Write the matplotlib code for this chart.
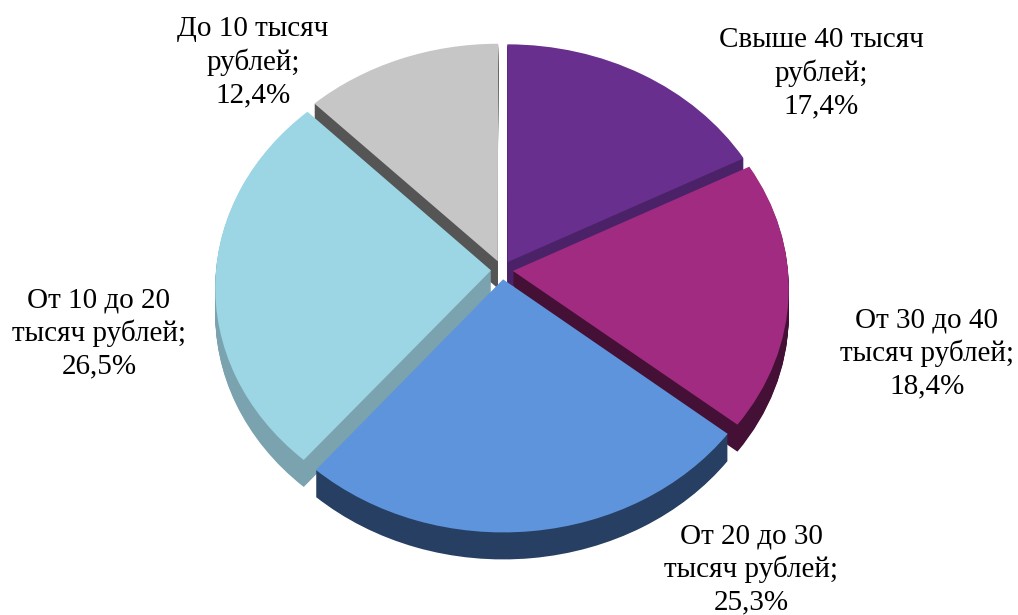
import numpy as np
import matplotlib
matplotlib.use("Agg")
import matplotlib.pyplot as plt
from matplotlib.transforms import Transform, Affine2D

plt.rcParams['font.family'] = ['Liberation Serif', 'DejaVu Serif']

labels = ["Свыше 40 тысяч\nрублей;\n17,4%", "От 30 до 40\nтысяч рублей;\n18,4%",
          "От 20 до 30\nтысяч рублей;\n25,3%", "От 10 до 20\nтысяч рублей;\n26,5%",
          "До 10 тысяч\nрублей;\n12,4%"]
values = [17.4, 18.4, 25.3, 26.5, 12.4]
top_colors = ["#682f8e", "#a22b82", "#5d94dc", "#9cd6e5", "#c6c6c6"]
side_colors = ["#4b2268", "#451035", "#263f63", "#7aa3af", "#555555"]
explode = [0.04] * 5
label_pos = [(821, 73), (927, 353), (751, 569), (99, 333), (253, 62)]

# draw order back to front
order = {4: 0, 0: 1, 1: 2, 3: 3, 2: 4}

RADIUS = 275
CENTER = (502, 270)
DEPTH = 27
TILT = 234 / 275
PERSP = 0.07


class Tilted(Transform):
    # perspective view of the unit pie plane
    input_dims = 2
    output_dims = 2

    def transform_non_affine(self, xy):
        xy = np.asarray(xy, dtype=float)
        w = 1 + PERSP * xy[:, 1]
        return np.column_stack([xy[:, 0] / w, TILT * xy[:, 1] / w])


fig = plt.figure(figsize=(10.18, 6.15), dpi=100)
ax = fig.add_axes([0, 0, 1, 1])

for d in range(DEPTH, -1, -1):
    wedges, _ = ax.pie(values, explode=explode, startangle=90, counterclock=False,
                       colors=top_colors if d == 0 else side_colors)
    tr = Tilted() + Affine2D().scale(RADIUS, -RADIUS).translate(CENTER[0], CENTER[1] + d) + ax.transData
    for i, w in enumerate(wedges):
        w.set_transform(tr)
        w.set_clip_on(False)
        w.set_linewidth(0)
        w.set_zorder(order[i] * 100 + (DEPTH - d))

ax.set_aspect('auto')
ax.set_xlim(0, 1018)
ax.set_ylim(615, 0)
ax.axis('off')

for text, (x, y) in zip(labels, label_pos):
    ax.text(x, y, text, ha='center', va='center', fontsize=21, color='black',
            linespacing=1.3, zorder=1000)

fig.savefig('out.png', dpi=100)
